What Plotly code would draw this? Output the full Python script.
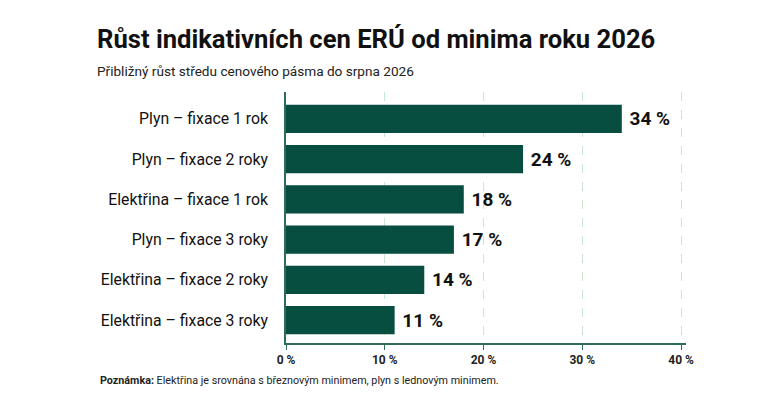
import plotly.graph_objects as go

categories = [
    "Plyn – fixace 1 rok",
    "Plyn – fixace 2 roky",
    "Elektřina – fixace 1 rok",
    "Plyn – fixace 3 roky",
    "Elektřina – fixace 2 roky",
    "Elektřina – fixace 3 roky",
]
growth_pct = [34, 24, 18, 17, 14, 11]
tick_vals = [0, 10, 20, 30, 40]
tick_text = ["0 %", "10 %", "20 %", "30 %", "40 %"]

bar_color = "#074d40"
axis_color = "#2e6b58"
grid_color = "#c9e6d3"
font_name = "Roboto"

# page is drawn with an 8px body offset, so layout is set 8px up/left
W, H = 780, 400
OFF = 8
L, R, T, B = 286 - OFF, W - (686 - OFF), 92 - OFF, H - (343 - OFF)

fig = go.Figure(
    go.Bar(
        x=growth_pct,
        y=categories,
        orientation="h",
        marker=dict(color=bar_color, line=dict(width=0)),
        width=0.7,
        text=[f"\u00a0{v} %" for v in growth_pct],
        textposition="outside",
        cliponaxis=False,
        textfont=dict(family=font_name, size=19, color="#111111", weight="bold"),
        hoverinfo="skip",
    )
)


def paper_x(px):
    return (px - OFF - L) / (W - L - R)


def paper_y(py):
    return (H - B - (py - OFF)) / (H - T - B)


fig.update_layout(
    width=W,
    height=H,
    margin=dict(l=L, r=R, t=T, b=B),
    plot_bgcolor="white",
    paper_bgcolor="white",
    showlegend=False,
    font=dict(family=font_name, color="#111111"),
    xaxis=dict(
        range=[0, 40.5],
        tickvals=tick_vals,
        ticktext=tick_text,
        showgrid=True,
        gridcolor=grid_color,
        griddash="dash",
        gridwidth=1,
        zeroline=False,
        showline=True,
        linecolor=axis_color,
        linewidth=1.5,
        ticks="outside",
        ticklen=5,
        tickcolor=axis_color,
        tickfont=dict(size=12, weight="bold", color="#222222"),
    ),
    yaxis=dict(
        type="category",
        range=[5.57, -0.67],
        showgrid=False,
        zeroline=False,
        showline=True,
        linecolor=axis_color,
        linewidth=1.5,
        ticks="",
        ticklabelstandoff=13,
        tickfont=dict(size=15.8, color="#111111"),
    ),
    annotations=[
        dict(
            text="Růst indikativních cen ERÚ od minima roku 2026",
            xref="paper", yref="paper", x=paper_x(95), y=paper_y(56),
            xanchor="left", yanchor="bottom",
            showarrow=False,
            font=dict(size=25.6, weight="bold", color="#111111"),
        ),
        dict(
            text="Přibližný růst středu cenového pásma do srpna 2026",
            xref="paper", yref="paper", x=paper_x(95), y=paper_y(81),
            xanchor="left", yanchor="bottom",
            showarrow=False,
            font=dict(size=13.6, color="#222222"),
        ),
        dict(
            text="<b>Poznámka:</b> Elektřina je srovnána s březnovým minimem, plyn s lednovým minimem.",
            xref="paper", yref="paper", x=paper_x(98), y=paper_y(389),
            xanchor="left", yanchor="bottom",
            showarrow=False,
            font=dict(size=10.75, color="#222222"),
        ),
    ],
)

fig.write_html("out.html")
